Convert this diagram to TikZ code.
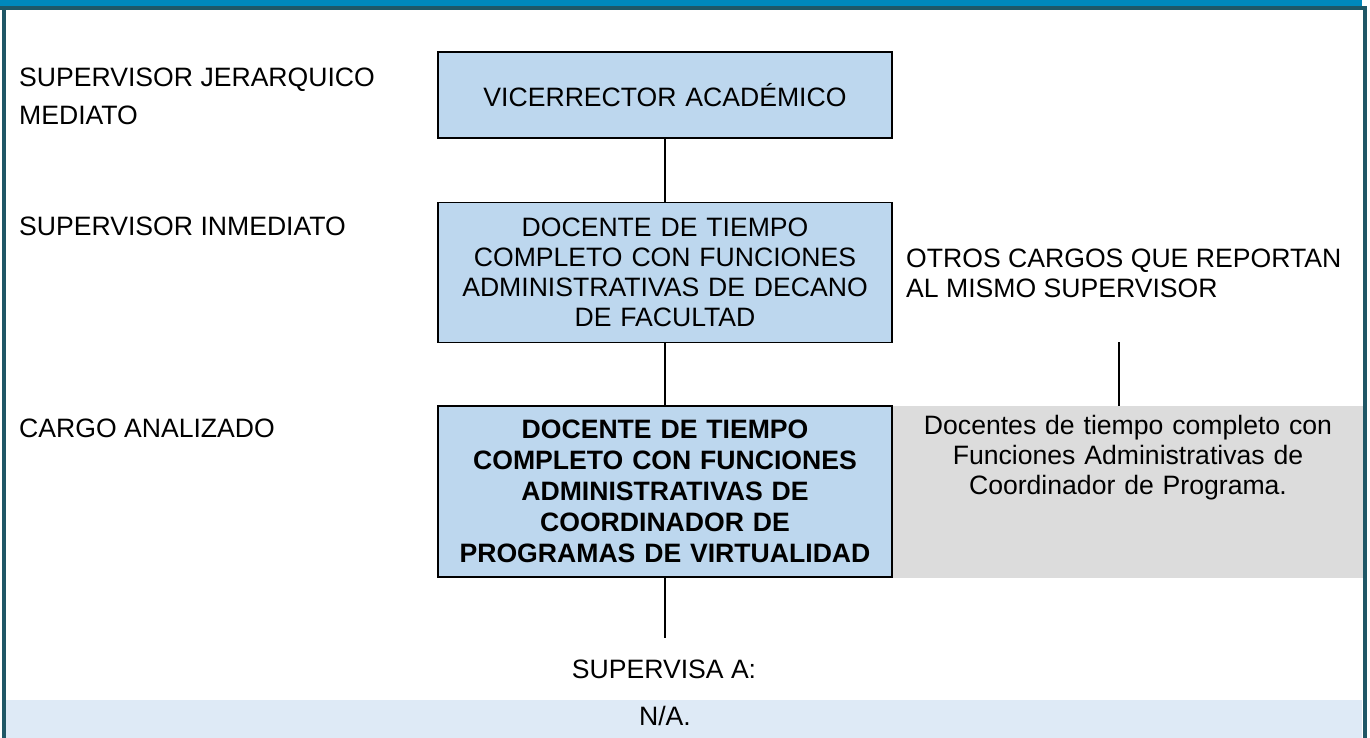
\documentclass[tikz,border=0pt]{standalone}
\usepackage{fontspec}
\setmainfont{Liberation Sans}
\usetikzlibrary{positioning}
\definecolor{cargoblue}{RGB}{189,215,238}
\definecolor{otrosgray}{RGB}{220,220,220}
\definecolor{bandblue}{RGB}{222,234,246}
\definecolor{topblue}{RGB}{0,136,187}
\definecolor{frameteal}{RGB}{31,87,102}

\begin{document}
\begin{tikzpicture}[x=1pt, y=1pt, node distance=63pt,
    cargo/.style={draw, line width=1.6pt, fill=cargoblue, minimum width=454pt, text width=440pt, align=center, font=\fontsize{26.6}{30}\selectfont},
    rotulo/.style={inner sep=0pt, anchor=west, align=left, font=\fontsize{26.6}{30}\selectfont},
    enlace/.style={line width=1.6pt}]
    % Frame
    \useasboundingbox (0,0) rectangle (1370,-738);
    \fill[topblue] (0,0) rectangle (1362,-6);
    \fill[frameteal] (0,-6) rectangle (1367,-10);
    \fill[frameteal] (2,-6) rectangle (6,-738);
    \fill[frameteal] (1363,-6) rectangle (1367,-738);
    \fill[bandblue] (6,-700) rectangle (1362,-738);

    % Nodes
    \node[cargo, minimum height=86pt] (vice) at (665,-95) {VICERRECTOR ACAD\'EMICO};
    \node[cargo, minimum height=140pt, below=of vice] (decano) {DOCENTE DE TIEMPO\\COMPLETO CON FUNCIONES\\ADMINISTRATIVAS DE DECANO\\DE FACULTAD};
    \node[cargo, minimum height=171pt, below=62pt of decano, font=\fontsize{26.6}{31}\selectfont\bfseries] (coord) {DOCENTE DE TIEMPO\\COMPLETO CON FUNCIONES\\ADMINISTRATIVAS DE\\COORDINADOR DE\\PROGRAMAS DE VIRTUALIDAD};
    \node[fill=otrosgray, inner sep=0pt, text width=450pt, minimum width=470pt, text height=28.3pt, text depth=143.7pt, align=center, font=\fontsize{26.6}{30}\selectfont, right=0pt of coord] (otros) {Docentes de tiempo completo con\\Funciones Administrativas de\\Coordinador de Programa.};

    \node[rotulo] (lblmediato) at (19,-96.5) {SUPERVISOR JERARQUICO\\[8.5pt]MEDIATO};
    \node[rotulo] (lblinmediato) at (19,-226) {SUPERVISOR INMEDIATO};
    \node[rotulo] (lblcargo) at (19,-428) {CARGO ANALIZADO};
    \node[rotulo] (lblotros) at (906,-273) {OTROS CARGOS QUE REPORTAN\\AL MISMO SUPERVISOR};
    \node[rotulo, anchor=center] (lblsupervisa) at (664,-669) {SUPERVISA A:};
    \node[rotulo, anchor=center] (na) at (665,-716) {N/A.};

    % Edges
    \coordinate (otrosfin) at (1119,-342);
    \coordinate (supfin) at (665,-638);
    \draw[enlace] (vice) -- (decano);
    \draw[enlace] (decano) -- (coord);
    \draw[enlace] (coord) -- (supfin);
    \draw[enlace] (otrosfin) -- (otrosfin |- otros.north);
\end{tikzpicture}
\end{document}
